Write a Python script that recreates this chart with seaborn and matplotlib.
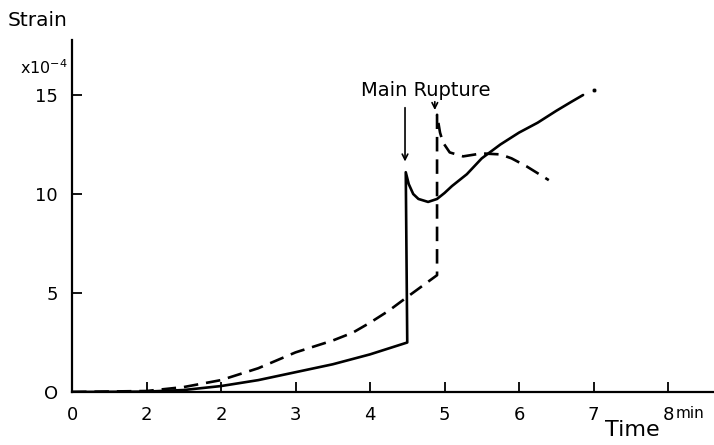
import numpy as np
import pandas as pd
import matplotlib
matplotlib.use("Agg")
import matplotlib.pyplot as plt
import seaborn as sns

sns.set_style("white")
plt.rcParams["font.family"] = ["DejaVu Sans"]
plt.rcParams["text.color"] = "black"

# solid curve (strain x1e-4 vs time in min)
t_solid = [0, 1.0, 1.5, 2.0, 2.5, 3.0, 3.5, 3.87, 4.0, 4.5, 4.48, 4.52, 4.58, 4.65,
           4.78, 4.9, 5.0, 5.1, 5.3, 5.5, 5.75, 6.0, 6.25, 6.5, 6.7, 6.86]
s_solid = [0, 0.02, 0.1, 0.3, 0.6, 1.0, 1.4, 1.77, 1.9, 2.5, 11.1, 10.5, 10.0, 9.75,
           9.6, 9.75, 10.05, 10.4, 11.0, 11.8, 12.5, 13.1, 13.6, 14.2, 14.65, 15.0]
dot_t, dot_s = [7.0], [15.25]

# dashed curve
t_dash = [0, 1.0, 1.5, 2.0, 2.5, 3.0, 3.5, 3.77, 4.0, 4.25, 4.5, 4.9, 4.9, 4.94,
          4.98, 5.07, 5.25, 5.5, 5.75, 5.9, 6.1, 6.4]
s_dash = [0, 0.05, 0.25, 0.6, 1.2, 2.0, 2.6, 3.0, 3.5, 4.1, 4.8, 5.9, 14.0, 13.1,
          12.6, 12.1, 11.9, 12.05, 12.0, 11.8, 11.4, 10.7]

x_ticks = [0, 1, 2, 3, 4, 5, 6, 7, 8]
x_labels = ["0", "2", "2", "3", "4", "5", "6", "7", "8"]
y_ticks = [0, 5, 10, 15]
y_labels = ["O", "5", "10", "15"]

solid = pd.DataFrame({"t": t_solid, "s": s_solid})
dash = pd.DataFrame({"t": t_dash, "s": s_dash})

W, H = 714, 445
fig = plt.figure(figsize=(W / 100, H / 100), dpi=100)
x0, y0 = 72, 392          # origin in pixels
px_x, px_y = 74.5, 19.8   # pixels per unit
ax = fig.add_axes([x0 / W, (H - y0) / H, (W - x0) / W, (y0 - 40) / H])
ax.set_xlim(0, (W - x0) / px_x)
ax.set_ylim(0, (y0 - 40) / px_y)

sns.lineplot(data=solid, x="t", y="s", sort=False, color="black", lw=1.9,
             estimator=None, ax=ax)
sns.lineplot(data=dash, x="t", y="s", sort=False, color="black", lw=1.9,
             estimator=None, ax=ax, linestyle=(0, (5.5, 3)))
sns.scatterplot(x=dot_t, y=dot_s, color="black", s=10, ax=ax)

for side in ["top", "right"]:
    ax.spines[side].set_visible(False)
for side in ["left", "bottom"]:
    ax.spines[side].set_color("black")
    ax.spines[side].set_linewidth(1.6)

ax.set_xticks(x_ticks)
ax.set_xticklabels(x_labels, fontsize=13)
ax.set_yticks(y_ticks)
ax.set_yticklabels(y_labels, fontsize=13)
ax.tick_params(axis="x", direction="in", length=7, width=1.3, pad=10,
               bottom=True, colors="black")
ax.tick_params(axis="y", direction="in", length=7, width=1.3, pad=10,
               left=True, colors="black")
ax.set_xlabel("")
ax.set_ylabel("")

ax.text(8.1, -1.1, "min", fontsize=11, va="center", ha="left", clip_on=False)
fig.text(605 / W, 1 - 430 / H, "Time", fontsize=16, va="center", ha="left")
fig.text(8 / W, 1 - 20 / H, "Strain", fontsize=14.5, va="center", ha="left")
fig.text(20 / W, 1 - 68 / H, r"x10$^{-4}$", fontsize=11.5, va="center", ha="left")

ax.text(4.75, 15.25, "Main Rupture", fontsize=14, ha="center", va="center")
ax.annotate("", xy=(4.47, 11.5), xytext=(4.47, 14.5),
            arrowprops=dict(arrowstyle="->", color="black", lw=1.2))
ax.annotate("", xy=(4.87, 14.1), xytext=(4.87, 14.8),
            arrowprops=dict(arrowstyle="->", color="black", lw=1.2))

fig.savefig("out.png", dpi=100)
